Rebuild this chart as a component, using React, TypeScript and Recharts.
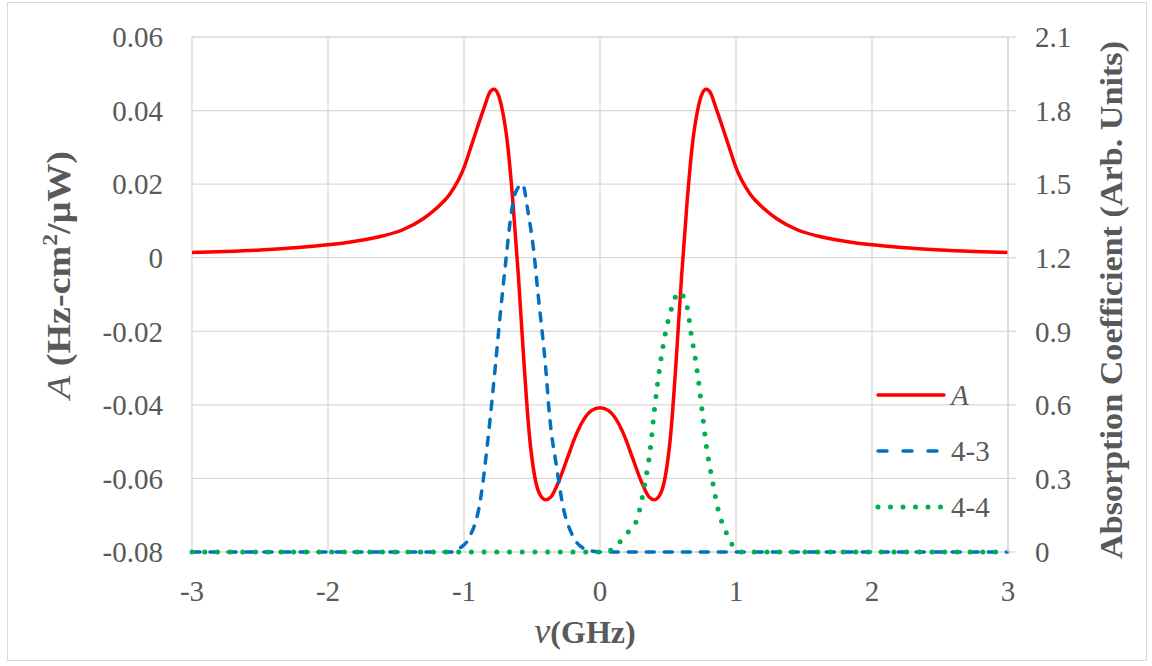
import React from "react";
import { ComposedChart, Line, XAxis, YAxis, CartesianGrid, Legend } from "recharts";

// ---- data ----
const aNu = [
  -3, -2.75, -2.5, -2.25, -2, -1.8, -1.6, -1.45, -1.3, -1.2, -1.1, -1.0, -0.95, -0.9, -0.85, -0.81,
  -0.78, -0.75, -0.72, -0.68, -0.64, -0.6, -0.56, -0.52, -0.48, -0.44, -0.4, -0.36, -0.3, -0.24,
  -0.18, -0.12, -0.06, 0, 0.06, 0.12, 0.18, 0.24, 0.3, 0.36, 0.4, 0.44, 0.48, 0.52, 0.56, 0.6,
  0.64, 0.68, 0.72, 0.75, 0.78, 0.81, 0.85, 0.9, 0.95, 1.0, 1.1, 1.2, 1.3, 1.45, 1.6, 1.8, 2,
  2.25, 2.5, 2.75, 3,
];
const aValues = [
  0.0014, 0.0017, 0.0021, 0.0027, 0.0035, 0.0045, 0.0059, 0.0076, 0.0106, 0.0135, 0.0175, 0.0245,
  0.03, 0.0356, 0.041, 0.045, 0.0458, 0.0445, 0.0405, 0.031, 0.015, -0.005, -0.028, -0.048,
  -0.0595, -0.0645, -0.0658, -0.065, -0.0605, -0.0545, -0.0485, -0.044, -0.0415, -0.0408,
  -0.0415, -0.044, -0.0485, -0.0545, -0.0605, -0.065, -0.0658, -0.0645, -0.0595, -0.048, -0.028,
  -0.005, 0.015, 0.031, 0.0405, 0.0445, 0.0458, 0.045, 0.041, 0.0356, 0.03, 0.0245, 0.0175,
  0.0135, 0.0106, 0.0076, 0.0059, 0.0045, 0.0035, 0.0027, 0.0021, 0.0017, 0.0014,
];

const nu43 = [
  -3, -1.08, -1.03, -0.96, -0.88, -0.82, -0.77, -0.735, -0.69, -0.66, -0.625, -0.57, -0.53, -0.49,
  -0.455, -0.4, -0.37, -0.32, -0.27, -0.21, -0.125, -0.05, 0, 3,
];
const abs43 = [
  0, 0, 0.016, 0.06, 0.21, 0.48, 0.755, 0.96, 1.2, 1.35, 1.46, 1.5, 1.39, 1.24, 1.05, 0.755, 0.55,
  0.35, 0.18, 0.077, 0.016, 0.003, 0, 0,
];

const nu44 = [
  -3, 0.05, 0.1, 0.2, 0.27, 0.33, 0.37, 0.4, 0.44, 0.48, 0.53, 0.58, 0.64, 0.67, 0.71, 0.75, 0.78,
  0.82, 0.87, 0.93, 0.99, 1.05, 3,
];
const abs44 = [
  0, 0, 0.016, 0.077, 0.13, 0.28, 0.42, 0.58, 0.755, 0.89, 1.0, 1.06, 1.0, 0.89, 0.755, 0.58, 0.44,
  0.31, 0.17, 0.077, 0.016, 0, 0,
];

const xTicks = [-3, -2, -1, 0, 1, 2, 3];
const leftTicks = [-0.08, -0.06, -0.04, -0.02, 0, 0.02, 0.04, 0.06];
const rightTicks = [0, 0.3, 0.6, 0.9, 1.2, 1.5, 1.8, 2.1];
const seriesNames = ["A", "4-3", "4-4"];

const dataA = aNu.map((x, i) => ({ x, y: aValues[i] }));
const data43 = nu43.map((x, i) => ({ x, y: abs43[i] }));
const data44 = nu44.map((x, i) => ({ x, y: abs44[i] }));

const FONT = "Liberation Serif";
const TXT = "#595959";
const GRID = "#d9d9d9";
const RED = "#ff0000";
const BLUE = "#0070c0";
const GREEN = "#00b050";

const fmtLeft = (v: number) => (Math.abs(v) < 1e-9 ? "0" : v.toFixed(2));
const fmtRight = (v: number) => (Math.abs(v) < 1e-9 ? "0" : v.toFixed(1));

const LeftTitle = () => {
  const cx = 58;
  const cy = 275;
  return (
    <text
      x={cx}
      y={cy}
      transform={`rotate(-90 ${cx} ${cy})`}
      textAnchor="middle"
      fontFamily={FONT}
      fontSize={34}
      fontWeight="bold"
      fill={TXT}
      dy={12}
      textLength={248}
      lengthAdjust="spacingAndGlyphs"
    >
      <tspan fontStyle="italic" fontWeight="normal">A</tspan>
      <tspan> (Hz-cm</tspan>
      <tspan fontSize={21} dy={-13}>2</tspan>
      <tspan dy={13}>/μW)</tspan>
    </text>
  );
};

const RightTitle = () => {
  const cx = 1111;
  const cy = 300;
  return (
    <text
      x={cx}
      y={cy}
      transform={`rotate(-90 ${cx} ${cy})`}
      textAnchor="middle"
      fontFamily={FONT}
      fontSize={32}
      fontWeight="bold"
      fill={TXT}
      dy={11}
      textLength={518}
      lengthAdjust="spacingAndGlyphs"
    >
      Absorption Coefficient (Arb. Units)
    </text>
  );
};

const XTitle = () => (
  <text x={585} y={643} textAnchor="middle" fontFamily={FONT} fontSize={32} fontWeight="bold" fill={TXT}>
    <tspan fontStyle="italic" fontWeight="normal" fontSize={36}>ν</tspan>
    <tspan>(GHz)</tspan>
  </text>
);

const legendStyles = [
  { color: RED, dash: undefined as string | undefined, width: 3.5 },
  { color: BLUE, dash: "9 16", width: 3.5 },
  { color: GREEN, dash: "0 12.5", width: 5 },
];

const LegendContent = () => (
  <div style={{ display: "flex", flexDirection: "column" }}>
    {seriesNames.map((name, i) => (
      <div key={name} style={{ display: "flex", alignItems: "center", height: 56 }}>
        <svg width={72} height={20} style={{ display: "block" }}>
          <line
            x1={3}
            x2={69}
            y1={10}
            y2={10}
            stroke={legendStyles[i].color}
            strokeWidth={legendStyles[i].width}
            strokeDasharray={legendStyles[i].dash}
            strokeLinecap="round"
          />
        </svg>
        <span
          style={{
            fontFamily: FONT,
            fontSize: 29,
            color: TXT,
            marginLeft: 4,
            fontStyle: i === 0 ? "italic" : "normal",
            lineHeight: "30px",
          }}
        >
          {name}
        </span>
      </div>
    ))}
  </div>
);

export default function App() {
  return (
    <div style={{ position: "absolute", left: 0, top: 0, width: 1152, height: 666, background: "#fff" }}>
      <div
        style={{
          position: "absolute",
          left: 7,
          top: 2,
          width: 1140,
          height: 659,
          border: "1px solid #d9d9d9",
          boxSizing: "border-box",
        }}
      />
      <ComposedChart width={1152} height={666} margin={{ top: 37, right: 0, bottom: 0, left: 0 }}>
        <CartesianGrid yAxisId="left" stroke={GRID} strokeWidth={1.3} horizontalValues={leftTicks} verticalValues={xTicks} />
        <XAxis
          dataKey="x"
          type="number"
          domain={[-3, 3]}
          ticks={xTicks}
          height={114}
          axisLine={false}
          tickLine={false}
          tickMargin={22}
          tick={{ fontFamily: FONT, fontSize: 29, fill: TXT }}
          label={<XTitle />}
          allowDuplicatedCategory={false}
        />
        <YAxis
          yAxisId="left"
          orientation="left"
          type="number"
          domain={[-0.08, 0.06]}
          ticks={leftTicks}
          width={192}
          axisLine={false}
          tickLine={false}
          tickMargin={23}
          tickFormatter={fmtLeft}
          tick={{ fontFamily: FONT, fontSize: 29, fill: TXT }}
          label={<LeftTitle />}
        />
        <YAxis
          yAxisId="right"
          orientation="right"
          type="number"
          domain={[0, 2.1]}
          ticks={rightTicks}
          width={144}
          axisLine={{ stroke: GRID, strokeWidth: 1.3 }}
          tickLine={{ stroke: GRID, strokeWidth: 1.3 }}
          tickSize={8}
          tickMargin={19}
          tickFormatter={fmtRight}
          tick={{ fontFamily: FONT, fontSize: 29, fill: TXT }}
          label={<RightTitle />}
        />
        <Line
          yAxisId="left"
          data={dataA}
          dataKey="y"
          name="A"
          type="monotone"
          stroke={RED}
          strokeWidth={3.5}
          dot={false}
          activeDot={false}
          isAnimationActive={false}
        />
        <Line
          yAxisId="right"
          data={data43}
          dataKey="y"
          name="4-3"
          type="monotone"
          stroke={BLUE}
          strokeWidth={3.5}
          strokeDasharray="8 10"
          strokeLinecap="round"
          dot={false}
          activeDot={false}
          isAnimationActive={false}
        />
        <Line
          yAxisId="right"
          data={data44}
          dataKey="y"
          name="4-4"
          type="monotone"
          stroke={GREEN}
          strokeWidth={5}
          strokeDasharray="0 12.7"
          strokeLinecap="round"
          dot={false}
          activeDot={false}
          isAnimationActive={false}
        />
        <Legend
          layout="vertical"
          align="center"
          verticalAlign="middle"
          content={<LegendContent />}
          wrapperStyle={{ position: "absolute", left: 875, top: 367, width: 140, height: 170 }}
        />
      </ComposedChart>
    </div>
  );
}
